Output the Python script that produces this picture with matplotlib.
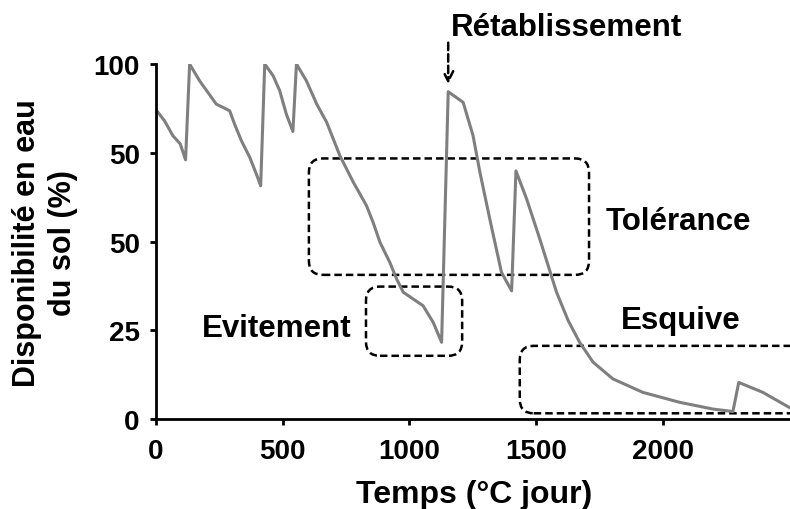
import matplotlib
matplotlib.use("Agg")
import matplotlib.pyplot as plt
from matplotlib.patches import FancyBboxPatch

plt.rcParams['font.family'] = ['Liberation Sans', 'DejaVu Sans']

# Data
temps = [5, 35, 68, 97, 118, 134, 173, 239, 279, 292, 311, 338, 371, 397,
         414, 430, 463, 489, 515, 541, 555, 594, 635, 674, 726, 779, 831,
         857, 884, 923, 950, 976, 1054, 1094, 1127, 1153, 1212, 1251, 1278,
         1317, 1363, 1403, 1420, 1462, 1514, 1580, 1626, 1671, 1724, 1802,
         1920, 2065, 2196, 2275, 2298, 2393, 2496]
dispo = [86.8, 84.0, 79.8, 77.5, 73.0, 100, 95.3, 88.7, 87.3, 86.8, 83.1,
         78.4, 73.7, 69.0, 65.7, 100, 96.7, 92.5, 85.9, 81.0, 100, 95.3,
         88.7, 83.6, 74.2, 66.7, 60.1, 55.4, 49.8, 44.1, 39.4, 35.7, 31.9,
         27.2, 21.6, 92.2, 89.2, 79.8, 69.5, 56.3, 41.3, 36.1, 69.9, 62.0,
         50.7, 35.7, 27.7, 21.6, 16.0, 11.3, 7.5, 4.7, 2.8, 2.1, 10.3, 7.5,
         3.3]

xticks = [0, 500, 1000, 1500, 2000]
xtick_labels = ['0', '500', '1000', '1500', '2000']
yticks = [0, 25, 50, 75, 100]
ytick_labels = ['0', '25', '50', '50', '100']

fig = plt.figure(figsize=(7.9, 5.1), dpi=100)
ax = fig.add_axes([0.197, 0.1765, 0.803, 0.696])
ax.plot(temps, dispo, color='#7f7f7f', lw=2.2, solid_joinstyle='round')
ax.set_xlim(0, 2500)
ax.set_ylim(0, 100)
ax.set_xticks(xticks)
ax.set_xticklabels(xtick_labels)
ax.set_yticks(yticks)
ax.set_yticklabels(ytick_labels)
for s in ['top', 'right']:
    ax.spines[s].set_visible(False)
for s in ['left', 'bottom']:
    ax.spines[s].set_linewidth(2)
ax.tick_params(width=2, length=4.5, labelsize=20)
ax.tick_params(axis='x', pad=9)
ax.tick_params(axis='y', pad=7)
for lab in ax.get_xticklabels() + ax.get_yticklabels():
    lab.set_fontweight('bold')

fig.text(474 / 790, 1 - 503 / 510, 'Temps (°C jour)', fontsize=23,
         fontweight='bold', ha='center', va='baseline')
fig.text(45 / 790, 1 - 243 / 510, 'Disponibilité en eau\ndu sol (%)',
         fontsize=22, fontweight='bold', ha='center', va='center',
         rotation=90, multialignment='center', linespacing=1.25)

# aspect of y units per pixel relative to x units per pixel
asp = (100 / 355) / (2500 / 635)

def dbox(x0, x1, y0, y1):
    p = FancyBboxPatch((x0, y0), x1 - x0, y1 - y0,
                       boxstyle='round,pad=0,rounding_size=55',
                       mutation_aspect=asp, fill=False, ec='black',
                       lw=1.8, ls=(0, (3, 1.6)), clip_on=True)
    ax.add_patch(p)

dbox(604, 1708, 40.6, 73.4)
dbox(829, 1208, 17.8, 37.3)
dbox(1435, 2800, 1.6, 20.6)

ax.text(2062, 53.5, 'Tolérance', fontsize=22.5, fontweight='bold',
        ha='center', va='baseline')
ax.text(2069, 25.6, 'Esquive', fontsize=22.5, fontweight='bold',
        ha='center', va='baseline')
ax.text(477, 23.4, 'Evitement', fontsize=22.5, fontweight='bold',
        ha='center', va='baseline')
ax.text(1620, 108.2, 'Rétablissement', fontsize=22.5, fontweight='bold',
        ha='center', va='baseline', clip_on=False)
ax.annotate('', xy=(1153, 93.6), xytext=(1153, 106.8),
            arrowprops=dict(arrowstyle='->', lw=1.8, ls=(0, (3, 1.6)),
                            color='black', mutation_scale=18),
            annotation_clip=False)

fig.savefig('out.png', dpi=100)
